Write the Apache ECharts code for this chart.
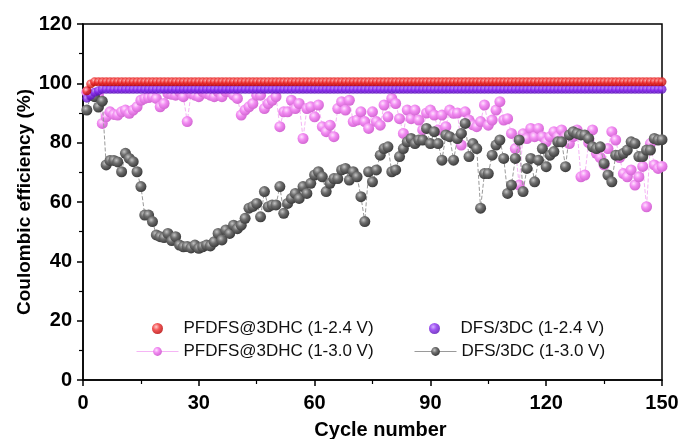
<!DOCTYPE html>
<html>
<head>
<meta charset="utf-8">
<script src="https://cdn.jsdelivr.net/npm/echarts@6/dist/echarts.min.js"></script>
<style>
  html, body { margin: 0; padding: 0; background: #fff; }
  #main { width: 681px; height: 439px; }
</style>
</head>
<body>
<div id="main"></div>
<script>
// cycle index 1..150
var cycles = Array.from({ length: 150 }, function (_, i) { return i + 1; });

var xTicks = [0, 30, 60, 90, 120, 150];
var yTicks = [0, 20, 40, 60, 80, 100, 120];

// PFDFS@3DHC (1-2.4 V)
var pfdfs24 = [
  97.5, 99.8, 100.5, 100.5, 100.5, 100.5, 100.5, 100.5, 100.5, 100.5,
  100.5, 100.5, 100.5, 100.5, 100.5, 100.5, 100.5, 100.5, 100.5, 100.5,
  100.5, 100.5, 100.5, 100.5, 100.5, 100.5, 100.5, 100.5, 100.5, 100.5,
  100.5, 100.5, 100.5, 100.5, 100.5, 100.5, 100.5, 100.5, 100.5, 100.5,
  100.5, 100.5, 100.5, 100.5, 100.5, 100.5, 100.5, 100.5, 100.5, 100.5,
  100.5, 100.5, 100.5, 100.5, 100.5, 100.5, 100.5, 100.5, 100.5, 100.5,
  100.5, 100.5, 100.5, 100.5, 100.5, 100.5, 100.5, 100.5, 100.5, 100.5,
  100.5, 100.5, 100.5, 100.5, 100.5, 100.5, 100.5, 100.5, 100.5, 100.5,
  100.5, 100.5, 100.5, 100.5, 100.5, 100.5, 100.5, 100.5, 100.5, 100.5,
  100.5, 100.5, 100.5, 100.5, 100.5, 100.5, 100.5, 100.5, 100.5, 100.5,
  100.5, 100.5, 100.5, 100.5, 100.5, 100.5, 100.5, 100.5, 100.5, 100.5,
  100.5, 100.5, 100.5, 100.5, 100.5, 100.5, 100.5, 100.5, 100.5, 100.5,
  100.5, 100.5, 100.5, 100.5, 100.5, 100.5, 100.5, 100.5, 100.5, 100.5,
  100.5, 100.5, 100.5, 100.5, 100.5, 100.5, 100.5, 100.5, 100.5, 100.5,
  100.5, 100.5, 100.5, 100.5, 100.5, 100.5, 100.5, 100.5, 100.5, 100.5
];

// DFS/3DC (1-2.4 V)
var dfs24 = [
  95.0, 96.0, 97.0, 97.5, 98, 98, 98, 98, 98, 98,
  98, 98, 98, 98, 98, 98, 98, 98, 98, 98,
  98, 98, 98, 98, 98, 98, 98, 98, 98, 98,
  98, 98, 98, 98, 98, 98, 98, 98, 98, 98,
  98, 98, 98, 98, 98, 98, 98, 98, 98, 98,
  98, 98, 98, 98, 98, 98, 98, 98, 98, 98,
  98, 98, 98, 98, 98, 98, 98, 98, 98, 98,
  98, 98, 98, 98, 98, 98, 98, 98, 98, 98,
  98, 98, 98, 98, 98, 98, 98, 98, 98, 98,
  98, 98, 98, 98, 98, 98, 98, 98, 98, 98,
  98, 98, 98, 98, 98, 98, 98, 98, 98, 98,
  98, 98, 98, 98, 98, 98, 98, 98, 98, 98,
  98, 98, 98, 98, 98, 98, 98, 98, 98, 98,
  98, 98, 98, 98, 98, 98, 98, 98, 98, 98,
  98, 98, 98, 98, 98, 98, 98, 98, 98, 98
];

// PFDFS@3DHC (1-3.0 V)
var pfdfs30 = [
  97.0, 96.0, 96.5, 96.0, 86.5, 88.7, 90.4, 89.5, 89.3, 90.4,
  91.0, 89.9, 91.0, 92.1, 94.3, 94.9, 95.2, 95.5, 94.9, 92.1,
  93.2, 96.6, 96.3, 96.0, 97.2, 95.5, 87.1, 96.6, 96.0, 95.5,
  97.2, 96.6, 96.0, 95.5, 97.2, 95.5, 97.2, 97.2, 96.0, 94.9,
  89.3, 91.0, 92.1, 93.2, 96.0, 96.0, 91.5, 93.2, 94.3, 95.5,
  85.4, 90.4, 90.4, 94.3, 91.5, 93.2, 81.4, 91.5, 92.1, 88.7,
  92.7, 85.4, 83.7, 85.9, 82.0, 91.5, 93.8, 91.0, 94.3, 87.1,
  87.6, 90.4, 87.1, 84.8, 90.4, 87.1, 85.9, 92.7, 88.7, 94.9,
  93.2, 88.1, 83.1, 91.0, 88.1, 91.0, 87.6, 84.3, 90.0, 91.0,
  89.3, 84.3, 89.3, 85.4, 91.0, 89.9, 90.0, 79.2, 90.4, 87.6,
  86.0, 85.4, 87.1, 92.7, 85.9, 87.6, 91.0, 93.8, 87.6, 88.1,
  83.1, 78.0, 65.7, 83.0, 81.4, 84.8, 82.0, 84.8, 82.0, 80.3,
  82.0, 83.7, 82.0, 84.3, 82.0, 79.7, 82.0, 84.3, 68.5, 69.1,
  80.0, 84.3, 76.4, 75.0, 72.5, 78.0, 83.7, 80.9, 75.0, 69.6,
  68.5, 70.8, 65.7, 68.5, 72.0, 58.4, 79.7, 72.5, 71.3, 72.0
];

// DFS/3DC (1-3.0 V)
var dfs30 = [
  91.0, 96.0, 95.5, 92.0, 94.0, 72.5, 74.0, 74.0, 73.5, 70.2,
  76.4, 74.7, 73.6, 70.2, 65.2, 55.6, 55.6, 53.4, 48.9, 48.3,
  48.0, 49.4, 47.0, 48.3, 45.5, 44.9, 45.0, 44.5, 45.5, 44.4,
  44.9, 45.5, 45.2, 46.6, 49.4, 47.2, 50.6, 49.4, 52.2, 51.0,
  52.2, 54.5, 57.9, 58.5, 59.5, 55.0, 63.5, 58.4, 59.0, 59.0,
  65.2, 56.2, 59.5, 61.2, 62.9, 61.2, 65.2, 62.9, 66.3, 69.1,
  70.2, 68.5, 63.5, 66.3, 67.9, 67.9, 70.8, 71.3, 67.4, 70.2,
  68.5, 61.8, 53.4, 70.2, 66.8, 70.8, 75.8, 78.0, 78.6, 70.2,
  70.8, 75.3, 78.0, 80.3, 81.4, 79.7, 80.9, 80.9, 84.8, 79.7,
  83.7, 79.7, 74.1, 82.6, 82.0, 74.1, 81.4, 83.1, 86.5, 75.3,
  79.7, 78.0, 57.9, 69.6, 69.6, 75.8, 79.2, 80.9, 74.7, 62.9,
  65.7, 74.7, 80.9, 63.5, 71.3, 74.7, 66.8, 74.1, 78.0, 71.9,
  75.8, 77.0, 80.3, 80.3, 71.9, 82.6, 83.7, 83.1, 82.6, 82.6,
  81.4, 78.6, 78.0, 78.6, 73.0, 69.1, 66.8, 75.8, 75.8, 76.4,
  77.5, 80.3, 79.7, 75.3, 75.3, 77.5, 77.5, 81.4, 80.9, 81.0
];

function pairs(ys) {
  return cycles.map(function (c, i) { return [c, ys[i]]; });
}

function ball(light, base, dark) {
  return {
    type: 'radial', x: 0.38, y: 0.35, r: 0.65,
    colorStops: [
      { offset: 0, color: light },
      { offset: 0.45, color: base },
      { offset: 1, color: dark }
    ]
  };
}

var font = 'Liberation Sans, Arial, Helvetica, sans-serif';
var names = ['PFDFS@3DHC (1-2.4 V)', 'DFS/3DC (1-2.4 V)', 'PFDFS@3DHC (1-3.0 V)', 'DFS/3DC (1-3.0 V)'];

function legendAt(name, left, top) {
  return {
    data: [name],
    left: left,
    top: top,
    padding: 0,
    itemWidth: 42,
    itemHeight: 11,
    lineStyle: { type: 'solid', width: 1 },
    textStyle: { fontFamily: font, fontSize: 17, color: '#111' }
  };
}

var myChart = echarts.init(document.getElementById('main'));
var option = {
  backgroundColor: '#fff',
  animation: false,
  legend: [
    legendAt(names[0], 152, 320),
    legendAt(names[1], 429, 320),
    legendAt(names[2], 136, 343),
    legendAt(names[3], 414, 343)
  ],
  grid: {
    left: 83, right: 19, top: 24, bottom: 59,
    containLabel: false, outerBoundsMode: 'none',
    show: true, borderColor: '#000', borderWidth: 1.5, backgroundColor: 'transparent'
  },
  xAxis: {
    type: 'value', min: 0, max: 150, interval: 30,
    name: 'Cycle number', nameLocation: 'middle', nameGap: 40,
    nameTextStyle: { fontFamily: font, fontSize: 20, fontWeight: 'bold', color: '#000', padding: [0, 0, 0, 16] },
    axisLine: { show: true, onZero: false, lineStyle: { color: '#000', width: 1.5 } },
    axisTick: { show: true, inside: false, length: 6, lineStyle: { color: '#000', width: 1.5 } },
    minorTick: { show: true, splitNumber: 2, length: 4, lineStyle: { color: '#000', width: 1.2 } },
    splitLine: { show: false },
    axisLabel: {
      margin: 13, fontFamily: font, fontSize: 20, fontWeight: 'bold', color: '#000',
      formatter: function (v) { return xTicks.indexOf(v) >= 0 ? String(v) : ''; }
    }
  },
  yAxis: {
    type: 'value', min: 0, max: 120, interval: 20,
    name: 'Coulombic efficiency (%)', nameLocation: 'middle', nameGap: 49,
    nameMoveOverlap: false,
    nameTextStyle: { fontFamily: font, fontSize: 19, fontWeight: 'bold', color: '#000' },
    axisLine: { show: true, lineStyle: { color: '#000', width: 1.5 } },
    axisTick: { show: true, inside: false, length: 6, lineStyle: { color: '#000', width: 1.5 } },
    minorTick: { show: true, splitNumber: 2, length: 4, lineStyle: { color: '#000', width: 1.2 } },
    splitLine: { show: false },
    axisLabel: {
      margin: 11, fontFamily: font, fontSize: 20, fontWeight: 'bold', color: '#000',
      formatter: function (v) { return yTicks.indexOf(v) >= 0 ? String(v) : ''; }
    }
  },
  series: [
    {
      name: names[2],
      type: 'line',
      data: pairs(pfdfs30),
      symbol: 'circle',
      symbolSize: 11,
      z: 2,
      itemStyle: { color: ball('#ffe2ff', '#f28cf2', '#d468d4') },
      lineStyle: { color: '#f5b5f5', width: 1, type: 'dashed' }
    },
    {
      name: names[3],
      type: 'line',
      data: pairs(dfs30),
      symbol: 'circle',
      symbolSize: 11,
      z: 3,
      itemStyle: { color: ball('#c4c4c4', '#6e6e6e', '#3c3c3c') },
      lineStyle: { color: '#9a9a9a', width: 1, type: 'dashed' }
    },
    {
      name: names[1],
      type: 'scatter',
      data: pairs(dfs24),
      symbol: 'circle',
      symbolSize: 9,
      z: 4,
      itemStyle: { color: ball('#c99cff', '#8a2cf0', '#5a10b8') }
    },
    {
      name: names[0],
      type: 'scatter',
      data: pairs(pfdfs24),
      symbol: 'circle',
      symbolSize: 9,
      z: 5,
      itemStyle: { color: ball('#ffc0c0', '#f02e2e', '#b80000') }
    }
  ]
};
myChart.setOption(option);
</script>
</body>
</html>
